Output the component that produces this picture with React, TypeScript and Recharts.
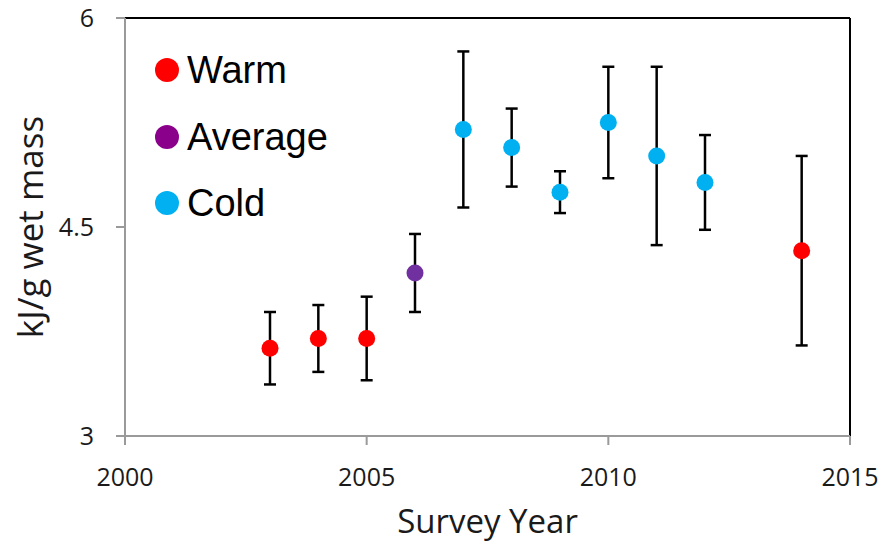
import {
  ErrorBar,
  Label,
  Legend,
  ReferenceLine,
  Scatter,
  ScatterChart,
  XAxis,
  YAxis,
} from "recharts";

const warmYears = [2003, 2004, 2005, 2014];
const warmValues = [3.63, 3.7, 3.7, 4.33];
const warmErrors = [0.26, 0.24, 0.3, 0.68];

const averageYears = [2006];
const averageValues = [4.17];
const averageErrors = [0.28];

const coldYears = [2007, 2008, 2009, 2010, 2011, 2012];
const coldValues = [5.2, 5.07, 4.75, 5.25, 5.01, 4.82];
const coldErrors = [0.56, 0.28, 0.15, 0.4, 0.64, 0.34];

const xTicks = [2000, 2005, 2010, 2015];
const yTicks = [3, 4.5, 6];

const seriesOrder = ["Warm", "Average", "Cold"];

const toRows = (years: number[], values: number[], errors: number[]) =>
  years.map((year, i) => ({ year, value: values[i], err: errors[i] }));

const warmData = toRows(warmYears, warmValues, warmErrors);
const averageData = toRows(averageYears, averageValues, averageErrors);
const coldData = toRows(coldYears, coldValues, coldErrors);

const WARM = "#ff0000";
const AVERAGE = "#7030a0";
const COLD = "#00b0f0";
const legendColors: Record<string, string> = {
  Warm: "#ff0000",
  Average: "#8b008b",
  Cold: "#00b0f0",
};

const AXIS = "#9a9a9a";
const tickStyle = { fontFamily: "'Open Sans'", fontSize: 25, fill: "#1a1a1a" };

const dot = (color: string) => (p: any) =>
  <circle cx={p.cx} cy={p.cy} r={8.5} fill={color} />;

function LegendBox({ payload }: any) {
  const items = [...(payload || [])].sort(
    (a: any, b: any) => seriesOrder.indexOf(a.value) - seriesOrder.indexOf(b.value)
  );
  return (
    <div style={{ fontFamily: "'Liberation Sans', Arial, sans-serif", fontSize: 38, color: "#000" }}>
      {items.map((item: any) => (
        <div key={item.value} style={{ display: "flex", alignItems: "center", height: 66.5 }}>
          <span
            style={{
              width: 24,
              height: 24,
              borderRadius: 12,
              background: legendColors[item.value] ?? item.color,
              marginRight: 8,
              display: "inline-block",
            }}
          />
          <span style={{ lineHeight: "38px" }}>{item.value}</span>
        </div>
      ))}
    </div>
  );
}

export default function App() {
  return (
    <div style={{ position: "absolute", left: 0, top: 0, background: "#fff" }}>
      <ScatterChart width={884} height={544} margin={{ top: 18, right: 34, left: 0, bottom: 0 }}>
        <XAxis
          type="number"
          dataKey="year"
          domain={[2000, 2015]}
          ticks={xTicks}
          height={108}
          axisLine={{ stroke: AXIS, strokeWidth: 2 }}
          tickLine={{ stroke: AXIS, strokeWidth: 2 }}
          tickSize={9}
          tickMargin={23}
          tick={tickStyle}
        >
          <Label
            content={(props: any) => {
              const vb = props.viewBox;
              return (
                <text
                  x={vb.x + vb.width / 2}
                  y={533}
                  textAnchor="middle"
                  fontFamily="'Open Sans'"
                  fontSize={33}
                  fill="#1a1a1a"
                >
                  Survey Year
                </text>
              );
            }}
          />
        </XAxis>
        <YAxis
          type="number"
          dataKey="value"
          domain={[3, 6]}
          ticks={yTicks}
          width={125}
          axisLine={{ stroke: AXIS, strokeWidth: 2 }}
          tickLine={{ stroke: AXIS, strokeWidth: 2 }}
          tickSize={9}
          tickMargin={22}
          tick={tickStyle}
        >
          <Label
            content={(props: any) => {
              const vb = props.viewBox;
              const cy = vb.y + vb.height / 2;
              return (
                <text
                  x={43}
                  y={cy}
                  transform={`rotate(-90 43 ${cy})`}
                  textAnchor="middle"
                  fontFamily="'Open Sans'"
                  fontSize={35}
                  fill="#1a1a1a"
                >
                  kJ/g wet mass
                </text>
              );
            }}
          />
        </YAxis>
        <ReferenceLine y={6} stroke="#000" strokeWidth={2} />
        <ReferenceLine x={2015} stroke="#000" strokeWidth={2} />
        <Legend
          layout="horizontal"
          verticalAlign="middle"
          align="center"
          wrapperStyle={{ left: 155, top: 37, width: "auto" }}
          content={<LegendBox />}
        />
        <Scatter name="Warm" data={warmData} fill={WARM} shape={dot(WARM)} isAnimationActive={false}>
          <ErrorBar dataKey="err" direction="y" stroke="#000" strokeWidth={2.5} width={6} />
        </Scatter>
        <Scatter name="Average" data={averageData} fill={AVERAGE} shape={dot(AVERAGE)} isAnimationActive={false}>
          <ErrorBar dataKey="err" direction="y" stroke="#000" strokeWidth={2.5} width={6} />
        </Scatter>
        <Scatter name="Cold" data={coldData} fill={COLD} shape={dot(COLD)} isAnimationActive={false}>
          <ErrorBar dataKey="err" direction="y" stroke="#000" strokeWidth={2.5} width={6} />
        </Scatter>
      </ScatterChart>
    </div>
  );
}
